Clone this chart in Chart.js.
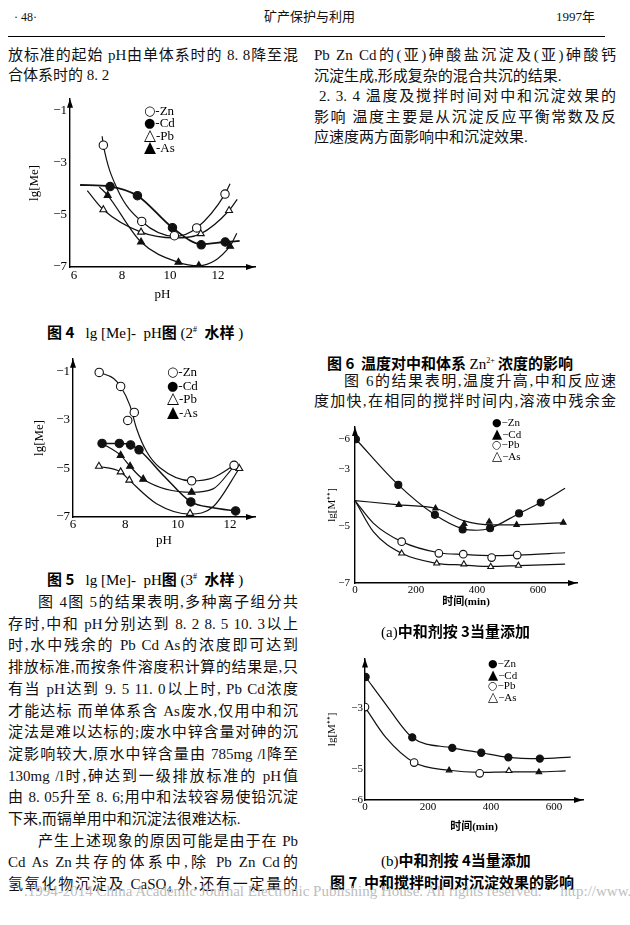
<!DOCTYPE html>
<html>
<head>
<meta charset="utf-8">
<script src="https://cdn.jsdelivr.net/npm/chart.js@4.4.1/dist/chart.umd.min.js"></script>
<style>
  body { margin: 0; width: 630px; height: 925px; background: #fff; position: relative; overflow: hidden;
         font-family: "Liberation Serif", "Noto Sans CJK SC", serif; color: #111; }
  .t { position: absolute; font-size: 15px; line-height: 20px; height: 20px; white-space: nowrap; }
  .j { text-align: justify; text-align-last: justify; white-space: normal; overflow: hidden; }
  .L { left: 8px; width: 290px; }
  .R { left: 314px; width: 302px; }
  canvas { position: absolute; }
  .lg { position: absolute; white-space: pre; color: #000; }
  .lg span { font-family: "DejaVu Sans"; }
  .lg span.tr { font-size: 1.2em; line-height: 0; }
  .cap { position: absolute; font-size: 15px; line-height: 20px; white-space: pre; color: #000; }
  .cap b { font-family: "Noto Sans CJK SC"; }
  .wm { position: absolute; left: 24px; top: 883px; font-size: 15px; color: #bdbdbd; white-space: pre; }
</style>
</head>
<body>
<div class="t" style="left:14px;top:7px;font-size:12px">· 48·</div>
<div class="t" style="left:264px;top:7px;font-size:13px">矿产保护与利用</div>
<div class="t" style="left:556px;top:7px;font-size:13px">1997年</div>
<div style="position:absolute;left:8px;top:36px;width:597px;border-top:1px solid #000"></div>

<div id="text"></div>

<canvas id="fig4" width="245" height="215" style="left:20px;top:88px"></canvas>
<canvas id="fig5" width="245" height="210" style="left:20px;top:348px"></canvas>
<canvas id="fig7a" width="280" height="200" style="left:318px;top:415px"></canvas>
<canvas id="fig7b" width="280" height="190" style="left:318px;top:650px"></canvas>

<div class="lg" style="left:144px;top:105px;font-size:13px;line-height:12.4px"><span>○</span>-Zn
<span>●</span>-Cd
<span class="tr">△</span>-Pb
<span class="tr">▲</span>-As</div>
<div class="lg" style="left:167px;top:365px;font-size:13px;line-height:13.7px"><span>○</span>-Zn
<span>●</span>-Cd
<span class="tr">△</span>-Pb
<span class="tr">▲</span>-As</div>
<div class="lg" style="left:492px;top:417px;font-size:11px;line-height:10.6px"><span>●</span>−Zn
<span class="tr">▲</span>−Cd
<span>○</span>−Pb
<span class="tr">△</span>−As</div>
<div class="lg" style="left:488px;top:658px;font-size:11px;line-height:10.5px"><span>●</span>−Zn
<span class="tr">▲</span>−Cd
<span>○</span>−Pb
<span class="tr">△</span>−As</div>

<div class="cap" style="left:47px;top:320px"><b>图 4</b>   lg [Me]-  pH<b>图</b> (2<sup style="font-size:8px">#</sup>  <b>水样</b> )</div>
<div class="cap" style="left:47px;top:567px"><b>图 5</b>   lg [Me]-  pH<b>图</b> (3<sup style="font-size:8px">#</sup>  <b>水样</b> )</div>
<div class="cap" style="left:327px;top:351px"><b>图 6  温度对中和体系 </b>Zn<sup style="font-size:8px">2+</sup><b> 浓度的影响</b></div>
<div class="cap" style="left:381px;top:621px">(a)<b>中和剂按 3当量添加</b></div>
<div class="cap" style="left:381px;top:850px">(b)<b>中和剂按 4当量添加</b></div>
<div class="cap" style="left:330px;top:872px"><b>图 7  中和搅拌时间对沉淀效果的影响</b></div>

<div class="wm">.1994-2014 China Academic Journal Electronic Publishing House. All rights reserved.     http://www.cnki.net</div>

<script>
// 正文 (按行排版)
const leftTop = ['放标准的起始 pH由单体系时的 8. 8降至混', '合体系时的 8. 2'];
const rightTop = ['Pb Zn Cd的(亚)砷酸盐沉淀及(亚)砷酸钙', '沉淀生成,形成复杂的混合共沉的结果.',
  '2. 3. 4 温度及搅拌时间对中和沉淀效果的', '影响 温度主要是从沉淀反应平衡常数及反', '应速度两方面影响中和沉淀效果.'];
const rightMid = ['图 6的结果表明,温度升高,中和反应速', '度加快,在相同的搅拌时间内,溶液中残余金'];
const leftBottom = ['图 4图 5的结果表明,多种离子组分共', '存时,中和 pH分别达到 8. 2 8. 5 10. 3以上',
  '时,水中残余的 Pb Cd As的浓度即可达到', '排放标准,而按条件溶度积计算的结果是,只',
  '有当 pH达到 9. 5 11. 0以上时, Pb Cd浓度', '才能达标 而单体系含 As废水,仅用中和沉',
  '淀法是难以达标的;废水中锌含量对砷的沉', '淀影响较大,原水中锌含量由 785mg /l降至',
  '130mg /l时,砷达到一级排放标准的 pH值', '由 8. 05升至 8. 6;用中和法较容易使铅沉淀',
  '下来,而镉单用中和沉淀法很难达标.', '产生上述现象的原因可能是由于在 Pb',
  'Cd As Zn共存的体系中,除 Pb Zn Cd的', '氢氧化物沉淀及 CaSO₄ 外,还有一定量的'];

let html = '';
function line(txt, col, y, just, indent) {
  const ind = indent ? `padding-left:${indent}px;box-sizing:border-box;` : '';
  html += `<div class="t ${col}${just ? ' j' : ''}" style="top:${y - 10}px;${ind}">${txt}</div>`;
}
leftTop.forEach((s, i) => line(s, 'L', 55 + i * 20, i === 0));
rightTop.forEach((s, i) => line(s, 'R', 55 + i * 20.5, i !== 1 && i !== 4, i === 2 ? 5 : 0));
rightMid.forEach((s, i) => line(s, 'R', 381 + i * 20, true, i === 0 ? 30 : 0));
leftBottom.forEach((s, i) => line(s, 'L', 602 + i * 21.7, i !== 10, (i === 0 || i === 11) ? 30 : 0));
document.getElementById('text').innerHTML = html;

// 图 4 (2# 水样): [pH, lg[Me]]
const f4ZnPts = [[7.22, -2.32], [8.82, -5.25], [10.18, -5.8], [11.11, -5.5], [12.29, -4.2]];
const f4ZnLine = [[7.17, -1.98], [7.22, -2.32], [7.8, -4.0], [8.82, -5.25], [10.2, -5.82], [11.11, -5.5], [12.29, -4.2], [12.5, -3.8]];
const f4CdPts = [[7.5, -3.91], [8.64, -4.26], [10.1, -5.49], [11.3, -6.15], [12.3, -6.04]];
const f4CdLine = [[6.25, -3.85], [7.5, -3.91], [8.64, -4.26], [10.1, -5.49], [11.3, -6.12], [12.3, -6.04], [12.9, -6.0]];
const f4PbPts = [[7.22, -4.8], [8.79, -5.66], [11.28, -5.72], [12.46, -4.83]];
const f4PbLine = [[6.55, -4.07], [7.22, -4.8], [8.79, -5.66], [10.2, -5.88], [11.28, -5.72], [12.46, -4.83], [12.8, -4.4]];
const f4AsPts = [[7.4, -4.25], [8.79, -6.04], [10.35, -6.82], [11.2, -6.95], [12.5, -6.2]];
const f4AsLine = [[7.05, -3.92], [7.4, -4.25], [8.79, -6.04], [10.35, -6.82], [11.2, -6.95], [12.5, -6.2], [12.78, -5.7]];

// 图 5 (3# 水样)
const f5ZnPts = [[7.0, -1.04], [7.82, -1.62], [8.34, -2.69], [8.09, -3.02], [10.53, -5.51], [12.15, -4.87]];
const f5ZnLine = [[7.0, -1.04], [7.54, -1.28], [7.82, -1.62], [8.18, -2.42], [8.43, -3.36], [8.81, -4.3], [9.32, -4.97], [10.53, -5.51], [11.35, -5.38], [12.15, -4.87]];
const f5CdPts = [[7.11, -3.97], [7.77, -3.97], [8.2, -4.03], [8.52, -4.23], [10.5, -6.38], [12.21, -6.75]];
const f5CdLine = [[7.11, -3.97], [7.77, -3.97], [8.2, -4.03], [8.52, -4.23], [9.51, -5.35], [10.5, -6.38], [11.35, -6.62], [12.21, -6.75]];
const f5PbPts = [[6.99, -4.91], [7.82, -5.14], [8.15, -5.48], [10.47, -6.85], [12.35, -5.0]];
const f5PbLine = [[6.99, -4.91], [7.82, -5.14], [8.15, -5.48], [9.19, -6.45], [10.47, -6.88], [11.35, -6.58], [12.35, -5.0]];
const f5AsPts = [[7.82, -4.46], [8.18, -4.91], [8.68, -5.44], [10.53, -5.98], [12.15, -4.91]];
const f5AsLine = [[7.11, -3.97], [7.82, -4.46], [8.18, -4.91], [8.68, -5.44], [10.53, -5.98], [11.35, -5.84], [12.15, -4.91]];

// 图 7(a) 3当量: [时间 min, lg[M]]
const f7aZnPts = [[3, -1.96], [142, -3.56], [262, -4.61], [353, -5.12], [443, -5.08], [538, -4.56], [609, -4.18]];
const f7aZnLine = [[3, -1.96], [142, -3.56], [262, -4.61], [353, -5.1], [400, -5.15], [443, -5.08], [538, -4.56], [609, -4.18], [689, -3.68]];
const f7aCdPts = [[144, -4.26], [264, -4.38], [358, -4.93], [440, -4.85], [530, -4.96], [683, -4.88]];
const f7aCdLine = [[0, -4.11], [144, -4.26], [264, -4.38], [358, -4.82], [450, -4.96], [530, -4.96], [683, -4.88]];
const f7aPbPts = [[153, -5.55], [275, -5.96], [355, -5.99], [448, -6.11], [532, -6.02]];
const f7aPbLine = [[0, -4.11], [60, -4.9], [153, -5.55], [275, -5.94], [355, -6.0], [448, -6.04], [532, -6.02], [689, -5.94]];
const f7aAsPts = [[153, -5.96], [268, -6.31], [357, -6.34], [445, -6.43], [536, -6.39]];
const f7aAsLine = [[0, -4.11], [60, -5.2], [153, -5.96], [268, -6.31], [357, -6.37], [445, -6.42], [536, -6.39], [689, -6.34]];

// 图 7(b) 4当量
const f7bZnPts = [[2, -1.99], [150, -3.96], [277, -4.3], [369, -4.46], [455, -4.61], [555, -4.65]];
const f7bZnLine = [[2, -1.99], [66, -2.88], [150, -3.96], [277, -4.3], [369, -4.46], [455, -4.61], [555, -4.65], [653, -4.6]];
const f7bPbPts = [[0, -2.97], [156, -4.78], [364, -5.13]];
const f7bCdPts = [[267, -5.03], [552, -5.09]];
const f7bAsPts = [[457, -5.05]];
const f7bLowLine = [[0, -2.97], [66, -3.96], [156, -4.78], [267, -5.03], [364, -5.1], [457, -5.08], [552, -5.08], [637, -5.05]];

// 刻度
const pHTicks = [6, 8, 10, 12];
const meTicks = [-7, -5, -3, -1];
const timeTicks = [0, 200, 400, 600];
const f7aYTicks = [-7, -5, -3, -1.95];
const f7aYLabels = ['−7', '−5', '−3', '−6'];
const f7bYTicks = [-6, -5, -3];

const serif = "'Liberation Serif', 'Noto Sans CJK SC', serif";
const toPts = a => a.map(([x, y]) => ({ x, y }));

function curve(a, w) {
  return { data: toPts(a), showLine: true, pointRadius: 0, borderColor: '#111', borderWidth: w || 1.2,
           cubicInterpolationMode: 'monotone', order: 1 };
}
function marks(a, style, fill, r) {
  return { data: toPts(a), showLine: false, pointStyle: style, pointRadius: r, pointBackgroundColor: fill,
           pointBorderColor: '#111', pointBorderWidth: 1.1, order: 0 };
}

const axisArrows = {
  id: 'axisArrows',
  afterDraw(chart) {
    const { ctx, chartArea: a } = chart;
    ctx.save();
    ctx.fillStyle = '#000';
    ctx.beginPath();
    ctx.moveTo(a.left, a.top); ctx.lineTo(a.left - 3, a.top + 9); ctx.lineTo(a.left + 3, a.top + 9);
    ctx.fill();
    ctx.beginPath();
    ctx.moveTo(a.right, a.bottom); ctx.lineTo(a.right - 9, a.bottom - 3); ctx.lineTo(a.right - 9, a.bottom + 3);
    ctx.fill();
    ctx.restore();
  }
};

function plot(id, sets, o) {
  new Chart(document.getElementById(id), {
    type: 'scatter',
    data: { datasets: sets },
    plugins: [axisArrows],
    options: {
      responsive: false, animation: false, events: [],
      layout: { autoPadding: false, padding: { left: 0, top: o.padT, right: o.padR, bottom: 0 } },
      plugins: { legend: { display: false }, tooltip: { enabled: false } },
      scales: {
        x: {
          type: 'linear', min: o.xMin, max: o.xMax,
          afterFit: s => { s.height = o.xH; },
          afterBuildTicks: s => { s.ticks = o.xTicks.map(v => ({ value: v })); },
          ticks: { color: '#000', font: { family: serif, size: o.fs }, padding: o.xPad, maxRotation: 0,
                   callback: v => String(v) },
          grid: { display: true, drawOnChartArea: false, drawTicks: false },
          border: { color: '#000', width: 1.4 },
          title: { display: true, text: o.xTitle, color: '#000',
                   font: { family: serif, size: o.fs, weight: o.xBold ? 'bold' : 'normal' },
                   padding: { top: 0, bottom: o.xTitlePad } }
        },
        y: {
          type: 'linear', min: o.yMin, max: o.yMax,
          afterFit: s => { s.width = o.yW; },
          afterBuildTicks: s => { s.ticks = o.yTicks.map(v => ({ value: v })); },
          ticks: { color: '#000', font: { family: serif, size: o.fs }, padding: o.yPad,
                   callback: v => o.yLabels ? o.yLabels[o.yTicks.indexOf(v)] : '−' + Math.abs(v) },
          grid: { display: true, drawOnChartArea: false, drawTicks: false },
          border: { color: '#000', width: 1.4 },
          title: { display: true, text: o.yTitle, color: '#000', font: { family: serif, size: o.fs },
                   padding: { top: o.yTitlePad, bottom: 0 } }
        }
      }
    }
  });
}

plot('fig4', [
  curve(f4ZnLine), curve(f4CdLine, 1.8), curve(f4PbLine), curve(f4AsLine),
  marks(f4ZnPts, 'circle', '#fff', 4.2), marks(f4CdPts, 'circle', '#111', 4.2),
  marks(f4PbPts, 'triangle', '#fff', 4), marks(f4AsPts, 'triangle', '#111', 4)
], { xMin: 5.83, xMax: 13.54, yMin: -7, yMax: -0.54, xTicks: pHTicks, yTicks: meTicks,
     padT: 9, padR: 10, xH: 36, yW: 50, fs: 13, xPad: 1, yPad: 3,
     xTitle: 'pH', xTitlePad: 1, yTitle: 'lg[Me]', yTitlePad: 7 });

plot('fig5', [
  curve(f5ZnLine), curve(f5CdLine, 1.5), curve(f5PbLine), curve(f5AsLine),
  marks(f5ZnPts, 'circle', '#fff', 4.2), marks(f5CdPts, 'circle', '#111', 4.2),
  marks(f5PbPts, 'triangle', '#fff', 4), marks(f5AsPts, 'triangle', '#111', 4)
], { xMin: 6, xMax: 12.95, yMin: -7, yMax: -0.48, xTicks: pHTicks, yTicks: meTicks,
     padT: 7, padR: 10, xH: 41, yW: 53, fs: 13, xPad: 0, yPad: 3,
     xTitle: 'pH', xTitlePad: 10, yTitle: 'lg[Me]', yTitlePad: 12 });

plot('fig7a', [
  curve(f7aZnLine), curve(f7aCdLine), curve(f7aPbLine), curve(f7aAsLine),
  marks(f7aZnPts, 'circle', '#111', 3.5), marks(f7aCdPts, 'triangle', '#111', 3.2),
  marks(f7aPbPts, 'circle', '#fff', 3.8), marks(f7aAsPts, 'triangle', '#fff', 3.4)
], { xMin: 0, xMax: 728, yMin: -7, yMax: -1.53, xTicks: timeTicks, yTicks: f7aYTicks, yLabels: f7aYLabels,
     padT: 12, padR: 21, xH: 32, yW: 37, fs: 11, xPad: 1, yPad: 5,
     xTitle: '时间(min)', xBold: true, xTitlePad: 6, yTitle: 'lg[M⁺⁺]', yTitlePad: 8 });

plot('fig7b', [
  curve(f7bZnLine), curve(f7bLowLine),
  marks(f7bZnPts, 'circle', '#111', 3.6), marks(f7bCdPts, 'triangle', '#111', 3.2),
  marks(f7bPbPts, 'circle', '#fff', 3.8), marks(f7bAsPts, 'triangle', '#fff', 3.4)
], { xMin: 0, xMax: 692, yMin: -6, yMax: -1.39, xTicks: timeTicks, yTicks: f7bYTicks,
     padT: 7, padR: 15, xH: 40, yW: 47, fs: 11, xPad: 1, yPad: 2,
     xTitle: '时间(min)', xBold: true, xTitlePad: 6, yTitle: 'lg[M⁺⁺]', yTitlePad: 8 });
</script>
</body>
</html>
